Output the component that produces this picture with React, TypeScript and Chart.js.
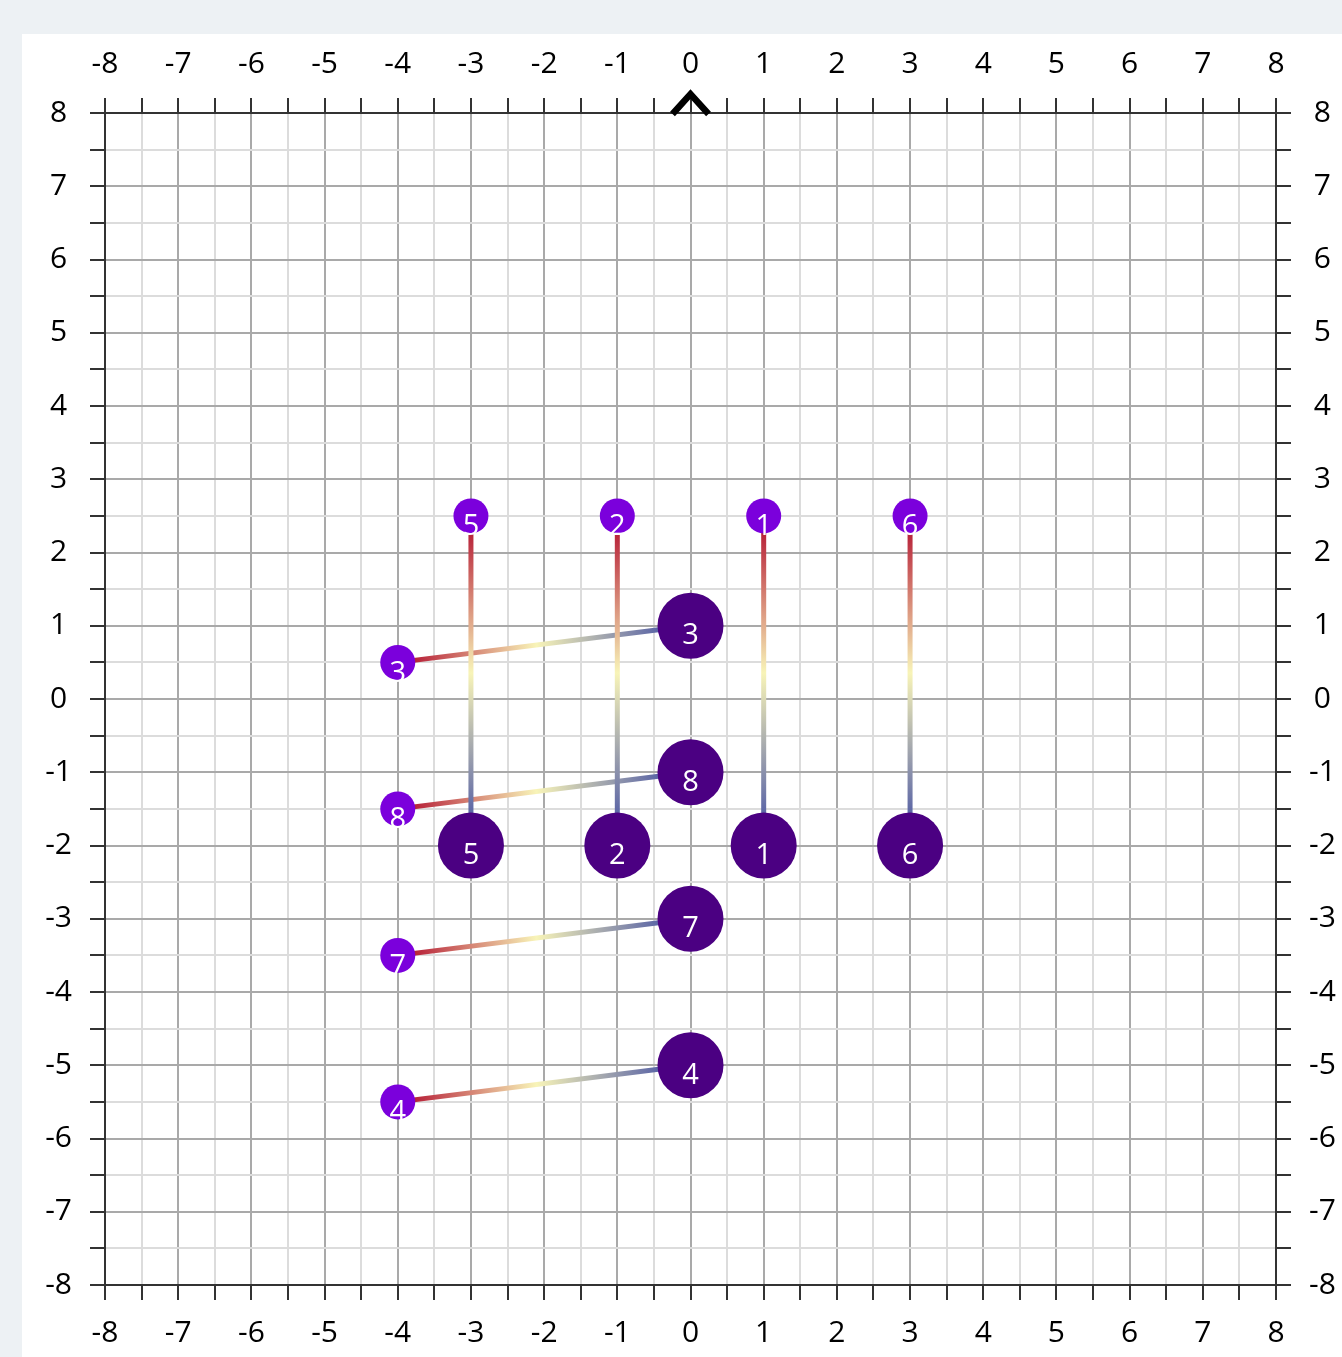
import React, { useEffect, useRef } from "react";
import { Chart, registerables } from "chart.js";

Chart.register(...registerables);

// Data
const pointLabels = ["5", "2", "1", "6", "3", "8", "7", "4"];
const startX = [-3, -1, 1, 3, -4, -4, -4, -4];
const startY = [2.5, 2.5, 2.5, 2.5, 0.5, -1.5, -3.5, -5.5];
const endX = [-3, -1, 1, 3, 0, 0, 0, 0];
const endY = [-2, -2, -2, -2, 1, -1, -3, -5];
const axisMin = -8;
const axisMax = 8;

const SMALL_R = 17.5;
const BIG_R = 33;
const FONT = "'Open Sans', 'Noto Sans', sans-serif";
const TICK_FONT_SIZE = 30;

const gridColor = (ctx: any) => {
  const v = ctx.tick ? ctx.tick.value : 0;
  if (v === axisMin || v === axisMax) return "#333333";
  if (Number.isInteger(v)) return "#a9a9a9";
  return "#dcdcdc";
};

const tickCb = (v: any) => (Number.isInteger(Number(v)) ? String(v) : "");

const makeGradient = (ctx: any, i: number) => {
  const chart = ctx.chart;
  const xs = chart.scales.x;
  const ys = chart.scales.y;
  if (!xs || !ys) return "#b8243a";
  const sx = xs.getPixelForValue(startX[i]);
  const sy = ys.getPixelForValue(startY[i]);
  const bx = xs.getPixelForValue(endX[i]);
  const by = ys.getPixelForValue(endY[i]);
  if (![sx, sy, bx, by].every((v) => Number.isFinite(v))) return "#b8243a";
  const dx = bx - sx;
  const dy = by - sy;
  const len = Math.hypot(dx, dy) || 1;
  const ux = dx / len;
  const uy = dy / len;
  const g = chart.ctx.createLinearGradient(
    sx + ux * SMALL_R,
    sy + uy * SMALL_R,
    bx - ux * BIG_R,
    by - uy * BIG_R
  );
  g.addColorStop(0, "#b8243a");
  g.addColorStop(0.5, "#f8f4b8");
  g.addColorStop(1, "#5d67a6");
  return g;
};

const labelPlugin = {
  id: "pointLabels",
  afterDatasetsDraw(chart: any) {
    const c = chart.ctx;
    c.save();
    c.fillStyle = "#ffffff";
    c.textAlign = "center";
    c.textBaseline = "middle";
    c.font = `29px ${FONT}`;
    chart.data.datasets.forEach((ds: any, di: number) => {
      if (!ds.isPoint) return;
      const meta = chart.getDatasetMeta(di);
      meta.data.forEach((el: any, i: number) => {
        const off = ds.isBig ? 10 : 11;
        c.fillText(pointLabels[i], el.x, el.y + off);
      });
    });
    c.restore();
  },
  afterDraw(chart: any) {
    const c = chart.ctx;
    const x = chart.scales.x.getPixelForValue(0);
    const y = chart.scales.y.getPixelForValue(axisMax);
    c.save();
    c.strokeStyle = "#000";
    c.lineWidth = 6.5;
    c.lineJoin = "miter";
    c.beginPath();
    c.moveTo(x - 18, y + 1);
    c.lineTo(x, y - 19);
    c.lineTo(x + 18, y + 1);
    c.stroke();
    c.restore();
  },
};

const tickFont = { size: TICK_FONT_SIZE, family: FONT };

export default function App() {
  const ref = useRef<HTMLCanvasElement | null>(null);

  useEffect(() => {
    document.body.style.margin = "0";
    document.body.style.background = "#edf1f4";
    const canvas = ref.current;
    if (!canvas) return;

    const lineSets = startX.map((_, i) => ({
      type: "line" as const,
      data: [
        { x: startX[i], y: startY[i] },
        { x: endX[i], y: endY[i] },
      ],
      borderColor: (ctx: any) => makeGradient(ctx, i),
      borderWidth: 5,
      pointRadius: 0,
      fill: false,
      order: 2,
    }));

    const grid = (onArea: boolean) => ({
      color: gridColor,
      lineWidth: 2,
      tickLength: 15,
      tickColor: "#333333",
      tickWidth: 2,
      drawOnChartArea: onArea,
    });

    const chart = new Chart(canvas, {
      type: "scatter",
      data: {
        datasets: [
          ...lineSets,
          {
            type: "scatter",
            isPoint: true,
            isBig: false,
            data: startX.map((x, i) => ({ x, y: startY[i] })),
            backgroundColor: "#7b00dc",
            borderWidth: 0,
            pointRadius: SMALL_R,
            order: 0,
          } as any,
          {
            type: "scatter",
            isPoint: true,
            isBig: true,
            data: endX.map((x, i) => ({ x, y: endY[i] })),
            backgroundColor: "#4b0082",
            borderWidth: 0,
            pointRadius: BIG_R,
            order: 0,
          } as any,
        ],
      },
      options: {
        responsive: false,
        animation: false,
        devicePixelRatio: 1,
        layout: { padding: 0 },
        plugins: {
          legend: { display: false },
          tooltip: { enabled: false },
        },
        scales: {
          x: {
            type: "linear",
            position: "bottom",
            min: axisMin,
            max: axisMax,
            afterFit: (s: any) => {
              s.height = 72;
            },
            ticks: {
              stepSize: 0.5,
              autoSkip: false,
              maxRotation: 0,
              callback: tickCb,
              color: "#000",
              font: tickFont,
              padding: 15,
            },
            grid: grid(true),
            border: { display: true, color: "#333333", width: 2 },
          },
          x2: {
            type: "linear",
            position: "top",
            min: axisMin,
            max: axisMax,
            afterFit: (s: any) => {
              s.height = 79;
            },
            ticks: {
              stepSize: 0.5,
              autoSkip: false,
              maxRotation: 0,
              callback: tickCb,
              color: "#000",
              font: tickFont,
              padding: 16,
            },
            grid: grid(false),
            border: { display: true, color: "#333333", width: 2 },
          },
          y: {
            type: "linear",
            position: "left",
            min: axisMin,
            max: axisMax,
            afterFit: (s: any) => {
              s.width = 83;
            },
            ticks: {
              stepSize: 0.5,
              autoSkip: false,
              callback: tickCb,
              color: "#000",
              crossAlign: "center",
              font: tickFont,
              padding: 18,
            },
            grid: grid(true),
            border: { display: true, color: "#333333", width: 2 },
          },
          y2: {
            type: "linear",
            position: "right",
            min: axisMin,
            max: axisMax,
            afterFit: (s: any) => {
              s.width = 66;
            },
            ticks: {
              stepSize: 0.5,
              autoSkip: false,
              callback: tickCb,
              color: "#000",
              crossAlign: "center",
              font: tickFont,
              padding: 18,
            },
            grid: grid(false),
            border: { display: true, color: "#333333", width: 2 },
          },
        },
      } as any,
      plugins: [labelPlugin],
    });

    return () => chart.destroy();
  }, []);

  return (
    <div style={{ width: 1342, height: 1357, background: "#edf1f4", boxSizing: "border-box", paddingLeft: 22, paddingTop: 34, overflow: "hidden" }}>
      <div style={{ width: 1320, height: 1323, background: "#ffffff" }}>
        <canvas ref={ref} width={1320} height={1323} style={{ width: 1320, height: 1323, display: "block" }} />
      </div>
    </div>
  );
}
